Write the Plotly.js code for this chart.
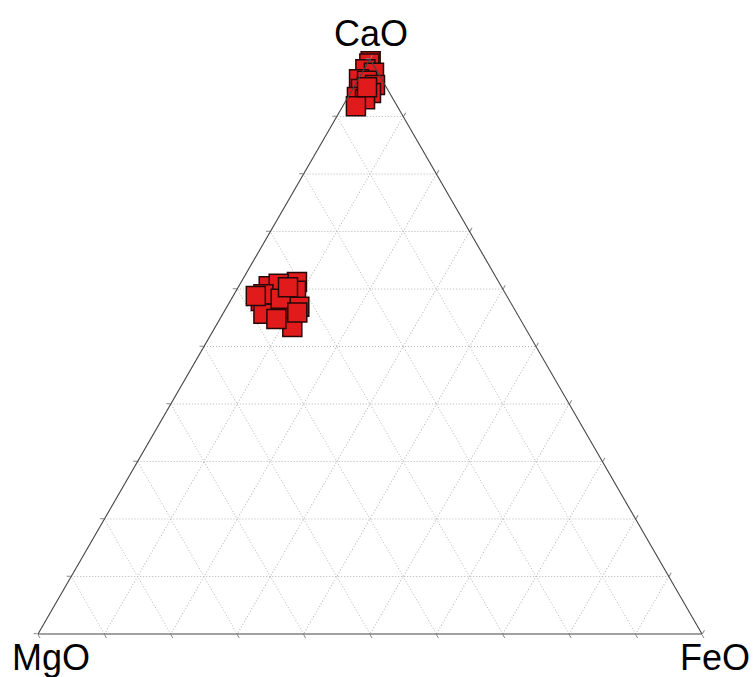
<!DOCTYPE html>
<html>
<head>
<meta charset="utf-8">
<script src="https://cdn.plot.ly/plotly-3.0.1.min.js"></script>
<style>html,body{margin:0;padding:0;background:#fff;}#chart{width:753px;height:677px;}</style>
</head>
<body>
<div id="chart"></div>
<script>
// CaO (top), MgO (bottom-left), FeO (bottom-right), in percent
const CaO_1 = [99.6, 99.2, 98.2, 97.6, 96.5, 96.2, 95.5, 94.8, 94.1, 93.4, 93.0, 91.8, 95.1];
const MgO_1 = [0.1, 0.5, 1.6, 0.6, 3.4, 2.35, 1.5, 3.96, 2.8, 5.27, 4.25, 6.22, 2.9];
const FeO_1 = [0.3, 0.3, 0.2, 1.8, 0.1, 1.45, 3.0, 1.24, 3.1, 1.33, 2.75, 1.98, 2.0];

const CaO_2 = [61.2, 60.5, 60.9, 57.9, 57.7, 56.9, 55.1, 55.7, 53.4, 54.8, 59.7, 59.1, 56.9, 58.3, 60.3, 58.8, 55.9];
const MgO_2 = [30.4, 35.0, 33.3, 37.5, 34.2, 36.5, 34.4, 38.2, 35.0, 36.7, 31.3, 36.5, 32.2, 34.3, 32.2, 37.8, 33.0];
const FeO_2 = [8.4, 4.5, 5.8, 4.6, 8.1, 6.6, 10.5, 6.1, 11.6, 8.5, 9.0, 4.4, 10.9, 7.4, 7.5, 3.4, 11.1];

const axisTitles = ['CaO', 'MgO', 'FeO'];

const marker = {symbol: 'square', size: 19, color: '#e11b1b', line: {color: '#260808', width: 1.5}};

const traces = [
  {type: 'scatterternary', mode: 'markers', a: CaO_1, b: MgO_1, c: FeO_1, marker: marker, cliponaxis: false, showlegend: false},
  {type: 'scatterternary', mode: 'markers', a: CaO_2, b: MgO_2, c: FeO_2, marker: marker, cliponaxis: false, showlegend: false}
];

function ax() {
  return {
    title: {text: ''},
    min: 0, dtick: 10, tick0: 0,
    showticklabels: false,
    ticks: 'outside', ticklen: 4, tickcolor: '#888', tickwidth: 1,
    linecolor: '#444', linewidth: 1.1,
    showgrid: true, gridcolor: '#b5b5b5', gridwidth: 1, griddash: '1px,2px'
  };
}

const titleFont = {size: 36, color: '#000', family: 'Liberation Sans, Arial, sans-serif'};

const layout = {
  width: 753, height: 677,
  margin: {l: 38, r: 51, t: 59, b: 43},
  paper_bgcolor: '#fff',
  showlegend: false,
  ternary: {
    sum: 100,
    bgcolor: '#fff',
    aaxis: ax(),
    baxis: ax(),
    caxis: ax()
  },
  annotations: [
    {text: axisTitles[0], xref: 'paper', yref: 'paper', x: 0.502, y: 1.0435, xanchor: 'center', yanchor: 'middle', showarrow: false, font: titleFont},
    {text: axisTitles[1], xref: 'paper', yref: 'paper', x: 0.0203, y: -0.04, xanchor: 'center', yanchor: 'middle', showarrow: false, font: titleFont},
    {text: axisTitles[2], xref: 'paper', yref: 'paper', x: 1.0203, y: -0.04, xanchor: 'center', yanchor: 'middle', showarrow: false, font: titleFont}
  ]
};

Plotly.newPlot('chart', traces, layout, {displayModeBar: false, staticPlot: true});
</script>
</body>
</html>
